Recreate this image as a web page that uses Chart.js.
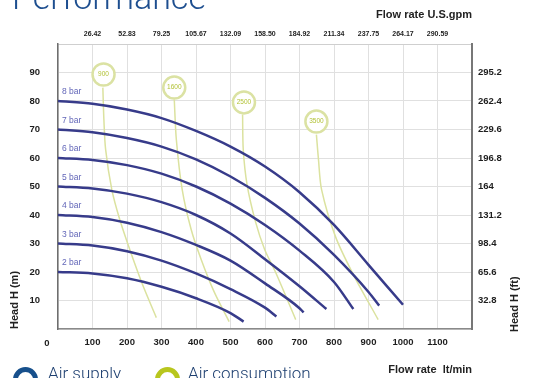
<!DOCTYPE html>
<html>
<head>
<meta charset="utf-8">
<script src="https://cdn.jsdelivr.net/npm/chart.js@4.4.1/dist/chart.umd.min.js"></script>
<style>
  html, body { margin: 0; padding: 0; background: #fff; }
  #wrap { position: relative; width: 539px; height: 378px; overflow: hidden; }
  #chart { position: absolute; left: 0; top: 0; }
  .heading { position: absolute; left: 12px; top: -20px; font: 300 34px Roboto, "Open Sans", sans-serif; color: #1d4e8f; white-space: nowrap; line-height: 1; }
  .key { position: absolute; top: 365px; font: 300 17px Roboto, "Open Sans", sans-serif; color: #1d3f70; white-space: nowrap; line-height: 1; }
  .ring { position: absolute; top: 367px; width: 15px; height: 15px; border-radius: 50%; border: 5px solid; }
</style>
</head>
<body>
<div id="wrap">
  <canvas id="chart" width="539" height="378"></canvas>
  <div class="heading">Performance</div>
  <div class="ring" style="left:13px;border-color:#17508c"></div>
  <div class="key" style="left:48px">Air supply</div>
  <div class="ring" style="left:155px;border-color:#b8c61e"></div>
  <div class="key" style="left:188px">Air consumption</div>
</div>
<script>
// --- data (flow in l/min, head in m) ---
const barLabels = ['2 bar', '3 bar', '4 bar', '5 bar', '6 bar', '7 bar', '8 bar'];

const bar2Flow = [0, 100, 200, 300, 400, 500, 538];
const bar2Head = [20, 19.5, 17.8, 14.8, 10.8, 5.6, 2.6];
const bar3Flow = [0, 100, 200, 300, 400, 500, 600, 633];
const bar3Head = [30, 29.3, 27.3, 24, 19.5, 14, 7.5, 4.4];
const bar4Flow = [0, 100, 200, 300, 400, 500, 600, 700, 712];
const bar4Head = [40, 39.3, 37.3, 34, 29.5, 24, 16, 7.3, 5.8];
const bar5Flow = [0, 100, 200, 300, 400, 500, 600, 700, 778];
const bar5Head = [50, 49.3, 47.5, 44.5, 40, 33.5, 24.5, 15, 7];
const bar6Flow = [0, 100, 200, 300, 400, 500, 600, 700, 800, 856];
const bar6Head = [60, 59.3, 57.5, 54.5, 50, 44, 36.5, 27.5, 16.5, 7];
const bar7Flow = [0, 100, 200, 300, 400, 500, 600, 700, 800, 900, 931];
const bar7Head = [70, 69, 67, 64, 59.5, 53.5, 46, 37, 26, 13, 8.2];
const bar8Flow = [0, 100, 200, 300, 400, 500, 600, 700, 800, 900, 1000];
const bar8Head = [80, 79, 77, 74, 69.5, 64, 57, 48, 36.5, 22.5, 8.5];

// air consumption iso-lines
const airLabels = ['900', '1600', '2500', '3500'];
const air900Flow = [130, 133, 138, 156, 179, 208, 245, 285];
const air900Head = [84.7, 73.5, 63, 48.9, 38.4, 27.9, 15.6, 4];
const air1600Flow = [337, 343, 360, 386, 415, 452, 496];
const air1600Head = [80.5, 66.5, 48.9, 34.9, 24.4, 13.2, 2.6];
const air2500Flow = [535, 537, 548, 573, 599, 631, 689];
const air2500Head = [75.3, 62.9, 50.7, 37.4, 27.9, 19.8, 3.3];
const air3500Flow = [749, 755, 764, 804, 856, 928];
const air3500Head = [68.2, 59.5, 48.9, 32.5, 19.1, 3.3];
const airBadgeFlow = [132, 337, 539, 749];
const airBadgeHead = [89.3, 84.7, 79.5, 72.8];

// secondary axis tick labels
const gpmTickLabels = ['26.42', '52.83', '79.25', '105.67', '132.09', '158.50', '184.92', '211.34', '237.75', '264.17', '290.59'];
const ftTickLabels = ['32.8', '65.6', '98.4', '131.2', '164', '196.8', '229.6', '262.4', '295.2'];

const BLUE = '#373b8a';
const GREEN = '#dbe29f';
const TICK_FONT = { family: 'Arial, "Liberation Sans", sans-serif', size: 9.5, weight: 'bold' };
const TITLE_FONT = { family: 'Arial, "Liberation Sans", sans-serif', size: 11, weight: 'bold' };

function pts(xs, ys) {
  return xs.map((x, i) => ({ x, y: ys[i] }));
}

const blueSets = [
  [bar2Flow, bar2Head], [bar3Flow, bar3Head], [bar4Flow, bar4Head], [bar5Flow, bar5Head],
  [bar6Flow, bar6Head], [bar7Flow, bar7Head], [bar8Flow, bar8Head],
].map(([f, h], i) => ({
  label: barLabels[i],
  data: pts(f, h),
  borderColor: BLUE,
  borderWidth: 2.5,
  pointRadius: 0,
  cubicInterpolationMode: 'monotone',
  order: 1,
}));

const greenSets = [
  [air900Flow, air900Head], [air1600Flow, air1600Head],
  [air2500Flow, air2500Head], [air3500Flow, air3500Head],
].map(([f, h], i) => ({
  label: airLabels[i],
  data: pts(f, h),
  borderColor: GREEN,
  borderWidth: 1.5,
  pointRadius: 0,
  tension: 0.3,
  order: 2,
}));

const badgeSet = {
  label: 'badges',
  data: pts(airBadgeFlow, airBadgeHead),
  showLine: false,
  pointRadius: 11,
  pointBackgroundColor: '#ffffff',
  pointBorderColor: '#dbe2a3',
  pointBorderWidth: 2.5,
  order: 0,
};

// text that sits on the marks: pressure labels, badge numbers, corner zero, right title
const overlay = {
  id: 'overlay',
  afterDraw(chart) {
    const { ctx, scales } = chart;
    ctx.save();
    ctx.textBaseline = 'middle';

    ctx.font = '8.5px Arial, "Liberation Sans", sans-serif';
    ctx.fillStyle = '#6266b8';
    ctx.textAlign = 'left';
    barLabels.forEach((label, i) => {
      const p = chart.getDatasetMeta(i).data[0];
      ctx.fillText(label, p.x + 4, p.y - 9);
    });

    ctx.font = '6.5px Arial, "Liberation Sans", sans-serif';
    ctx.fillStyle = '#b2c236';
    ctx.textAlign = 'center';
    const badgeMeta = chart.getDatasetMeta(chart.data.datasets.length - 1);
    airLabels.forEach((label, i) => {
      const p = badgeMeta.data[i];
      ctx.fillText(label, p.x, p.y);
    });

    ctx.font = 'bold 9.5px Arial, "Liberation Sans", sans-serif';
    ctx.fillStyle = '#1e1e1e';
    ctx.fillText('0', scales.x.left - 11, scales.x.top + 14);

    ctx.font = 'bold 11px Arial, "Liberation Sans", sans-serif';
    ctx.fillStyle = '#222';
    ctx.translate(scales.y2.right - 24, scales.y2.bottom + 3);
    ctx.rotate(-Math.PI / 2);
    ctx.textAlign = 'left';
    ctx.fillText('Head H (ft)', 0, 0);
    ctx.restore();
  },
};

new Chart(document.getElementById('chart'), {
  type: 'line',
  data: { datasets: [...blueSets, ...greenSets, badgeSet] },
  plugins: [overlay],
  options: {
    responsive: false,
    animation: false,
    layout: { padding: 0 },
    plugins: { legend: { display: false }, tooltip: { enabled: false } },
    scales: {
      x: {
        type: 'linear', position: 'bottom', min: 0, max: 1200,
        afterFit(s) { s.height = 49; },
        ticks: {
          stepSize: 100, padding: 8, color: '#1e1e1e', font: TICK_FONT, maxRotation: 0,
          callback: (v) => (v === 0 || v === 1200 ? '' : v),
        },
        grid: { color: '#e0e0e0', drawTicks: false },
        border: { color: '#8a8a8a', width: 1.5 },
        title: { display: true, text: 'Flow rate  lt/min', align: 'end', color: '#222', font: TITLE_FONT, padding: { top: 2, bottom: 1 } },
      },
      x2: {
        type: 'linear', position: 'top', min: 0, max: 1200,
        afterFit(s) { s.height = 44; },
        ticks: {
          stepSize: 100, padding: 6, color: '#1e1e1e', maxRotation: 0,
          font: { family: 'Arial, "Liberation Sans", sans-serif', size: 7, weight: 'bold' },
          callback: (v) => gpmTickLabels[v / 100 - 1] || '',
        },
        grid: { display: false, drawTicks: false },
        border: { color: '#cfcfcf', width: 1 },
        title: { display: true, text: 'Flow rate U.S.gpm', align: 'end', color: '#222', font: TITLE_FONT, padding: { top: 8, bottom: 0 } },
      },
      y: {
        type: 'linear', position: 'left', min: 0, max: 100,
        afterFit(s) { s.width = 58; },
        ticks: {
          stepSize: 10, padding: 18, color: '#1e1e1e', font: TICK_FONT,
          callback: (v) => (v === 0 || v === 100 ? '' : v),
        },
        grid: { color: '#e0e0e0', drawTicks: false },
        border: { color: '#6e6e6e', width: 1.5 },
        title: { display: true, text: 'Head H (m)', align: 'start', color: '#222', font: TITLE_FONT, padding: { top: 8, bottom: 0 } },
      },
      y2: {
        type: 'linear', position: 'right', min: 0, max: 100,
        afterFit(s) { s.width = 67; },
        ticks: {
          stepSize: 10, padding: 6, color: '#1e1e1e', font: TICK_FONT,
          callback: (v) => ftTickLabels[v / 10 - 1] || '',
        },
        grid: { drawOnChartArea: false, drawTicks: false },
        border: { color: '#777', width: 2 },
      },
    },
  },
});
</script>
</body>
</html>
